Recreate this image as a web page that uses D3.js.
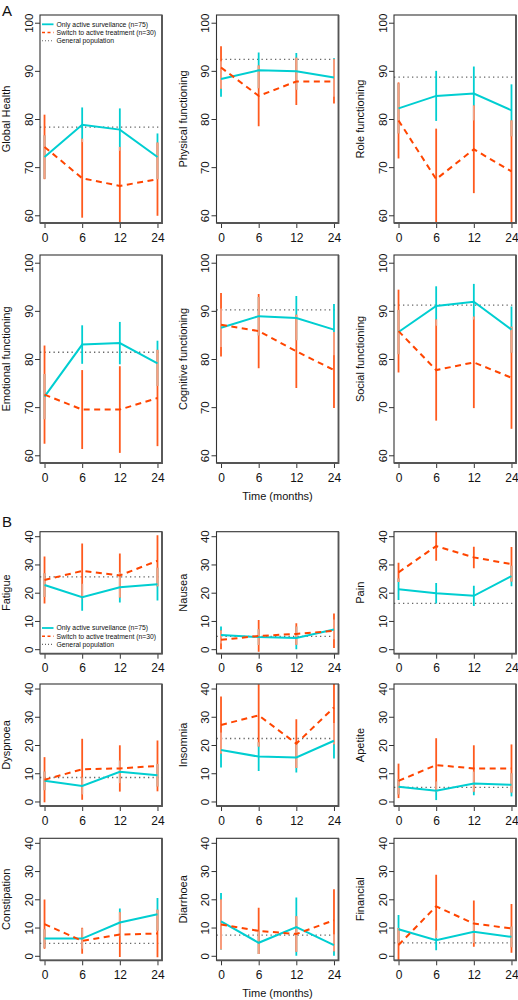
<!DOCTYPE html>
<html><head><meta charset="utf-8">
<script src="https://cdn.jsdelivr.net/npm/d3@7"></script>
<style>
body{margin:0;background:#fff}
text{font-family:"Liberation Sans",Arial,Helvetica,sans-serif;fill:#111}
</style>
</head><body>
<svg id="c" width="518" height="1000"></svg>
<script>
// ---------- data ----------
const timeLabels = ["0", "6", "12", "24"];
const panelTitles = ["Global Health", "Physical functioning", "Role functioning",
  "Emotional functioning", "Cognitive functioning", "Social functioning",
  "Fatigue", "Nausea", "Pain", "Dyspnoea", "Insomnia", "Apetite",
  "Constipation", "Diarrhoea", "Financial"];
const legendLabels = ["Only active surveilance (n=75)", "Switch to active treatment (n=30)", "General population"];
const yTicksA = [60, 70, 80, 90, 100];
const yTicksB = [0, 10, 20, 30, 40];

// Only active surveillance (n=75)
const asMean = [
  [72.1, 78.8, 77.8, 72.1], [88.3, 90.1, 89.9, 88.6], [82.2, 84.8, 85.3, 81.8],
  [72.2, 83.0, 83.3, 79.1], [86.5, 88.9, 88.5, 86.1], [85.6, 91.0, 91.9, 86.1],
  [22.7, 18.4, 21.9, 23.0], [5.0, 4.3, 4.0, 7.0], [21.2, 19.8, 18.9, 25.9],
  [7.3, 5.5, 10.5, 9.3], [18.2, 15.9, 15.6, 21.5], [5.2, 3.8, 6.4, 5.9],
  [6.1, 6.1, 11.8, 14.7], [12.2, 4.6, 10.2, 3.8], [9.4, 5.5, 8.5, 6.7]];
const asLow = [
  [67.6, 75.2, 73.4, 67.5], [84.6, 86.4, 86.1, 84.6], [77.0, 79.6, 79.7, 76.4],
  [67.5, 79.0, 78.9, 74.4], [82.5, 84.9, 83.9, 80.8], [81.0, 86.9, 88.2, 81.3],
  [18.5, 13.6, 16.5, 17.2], [2.0, 1.5, 0.0, 3.5], [17.4, 16.2, 15.3, 22.3],
  [4.0, 2.5, 6.5, 5.3], [12.0, 10.8, 10.3, 15.2], [2.5, 0.5, 2.2, 1.8],
  [2.8, 2.5, 6.9, 8.9], [2.2, 0.6, 0.0, 0.0], [4.4, 2.0, 4.5, 3.0]];
const asHigh = [
  [76.6, 82.4, 82.2, 77.0], [92.0, 93.8, 93.7, 92.6], [87.4, 90.0, 90.9, 87.2],
  [76.9, 87.0, 87.7, 83.8], [90.5, 92.9, 93.1, 91.4], [90.2, 95.1, 95.6, 90.9],
  [26.9, 23.2, 27.3, 28.8], [8.0, 7.1, 8.0, 10.5], [25.0, 23.4, 22.5, 29.5],
  [10.6, 8.5, 14.5, 13.3], [24.4, 21.0, 20.9, 27.8], [7.9, 7.1, 10.6, 10.0],
  [9.4, 9.7, 16.7, 20.5], [22.2, 8.6, 20.6, 7.6], [14.4, 9.0, 12.5, 10.4]];

// Switch to active treatment (n=30)
const atMean = [
  [74.2, 67.7, 66.1, 67.5], [90.7, 84.8, 87.8, 87.8], [79.7, 67.5, 73.7, 69.1],
  [72.6, 69.5, 69.5, 71.9], [87.1, 85.8, 81.6, 77.7], [85.8, 77.7, 79.3, 76.1],
  [24.5, 27.7, 26.1, 31.3], [3.3, 4.7, 5.4, 6.5], [27.2, 36.5, 32.5, 30.1],
  [7.7, 11.4, 11.7, 12.6], [27.1, 30.5, 20.5, 33.3], [7.3, 12.9, 11.7, 11.7],
  [11.2, 5.3, 7.5, 7.9], [11.1, 8.8, 7.7, 12.6], [3.8, 17.5, 11.4, 9.7]];
const atLow = [
  [67.5, 59.5, 58.0, 59.9], [86.3, 78.5, 82.9, 83.2], [71.8, 57.0, 64.6, 58.5],
  [62.4, 61.3, 60.5, 61.9], [80.5, 78.1, 74.0, 69.8], [77.2, 67.2, 69.8, 65.5],
  [16.2, 18.0, 18.3, 22.3], [0.0, -0.9, 1.6, 0.4], [23.8, 31.3, 28.7, 24.0],
  [-0.3, 0.6, 3.5, 3.6], [17.0, 19.5, 11.9, 20.3], [1.2, 3.4, 3.5, 3.2],
  [2.5, 0.7, -0.4, -0.5], [2.3, 0.6, 1.4, 1.6], [-2.2, 6.3, 3.2, 1.1]];
const atHigh = [
  [80.9, 75.9, 74.2, 75.1], [95.1, 91.1, 92.7, 92.4], [87.6, 78.0, 82.8, 79.7],
  [82.8, 77.7, 78.5, 81.9], [93.7, 93.5, 89.2, 85.6], [94.4, 88.2, 88.8, 86.7],
  [32.8, 37.4, 33.9, 40.3], [6.6, 10.3, 9.2, 12.6], [30.6, 41.7, 36.3, 36.2],
  [15.7, 22.2, 19.9, 21.6], [37.2, 41.5, 29.1, 46.3], [13.4, 22.4, 19.9, 20.2],
  [19.9, 9.9, 15.4, 16.3], [19.9, 17.0, 14.0, 23.6], [9.8, 28.7, 19.6, 18.3]];

// General population reference
const gpRef = [78.3, 92.4, 88.7, 81.4, 90.2, 91.2, 25.6, 4.5, 16.2, 8.5, 22.3, 5.0, 4.4, 7.3, 4.6];

// ---------- style / layout ----------
const CYAN = "#00CED1", ORANGE = "#FF4500", BAR_OR = "#FF5A1E", SALMON = "#F9A184", GP = "#666";
const colX = [40, 216.5, 394], pw = 122;
const rowsA = [15, 255], phA = 208;
const rowsB = [531.7, 684, 838.3], phB = 122;

const svg = d3.select("#c");
const defs = svg.append("defs");

panelTitles.forEach((title, i) => {
  const isA = i < 6;
  const r = isA ? Math.floor(i / 3) : Math.floor((i - 6) / 3);
  const c = i % 3;
  const x0 = colX[c], y0 = isA ? rowsA[r] : rowsB[r], h = isA ? phA : phB;
  const ticks = isA ? yTicksA : yTicksB;
  const lo = ticks[0], hi = ticks[ticks.length - 1], ext = (hi - lo) * 0.04;
  const x = d3.scalePoint().domain(timeLabels).range([0, pw]).padding(0.12);
  const y = d3.scaleLinear().domain([lo - ext, hi + ext]).range([h, 0]);
  const g = svg.append("g").attr("transform", `translate(${x0},${y0})`);

  defs.append("clipPath").attr("id", "clip" + i)
    .append("rect").attr("width", pw).attr("height", h);
  const p = g.append("g").attr("clip-path", `url(#clip${i})`);

  // GP reference
  p.append("line").attr("x1", 0).attr("x2", pw)
    .attr("y1", y(gpRef[i])).attr("y2", y(gpRef[i]))
    .attr("stroke", GP).attr("stroke-width", 1.3).attr("stroke-dasharray", "1.3,3.2");

  // error bars
  timeLabels.forEach((t, k) => {
    const xx = x(t);
    p.append("line").attr("x1", xx).attr("x2", xx)
      .attr("y1", y(asLow[i][k])).attr("y2", y(asHigh[i][k]))
      .attr("stroke", CYAN).attr("stroke-width", 1.8);
    p.append("line").attr("x1", xx).attr("x2", xx)
      .attr("y1", y(atLow[i][k])).attr("y2", y(atHigh[i][k]))
      .attr("stroke", BAR_OR).attr("stroke-width", 1.8);
    const oLo = Math.max(asLow[i][k], atLow[i][k]), oHi = Math.min(asHigh[i][k], atHigh[i][k]);
    if (oHi > oLo) {
      p.append("line").attr("x1", xx).attr("x2", xx)
        .attr("y1", y(oLo)).attr("y2", y(oHi))
        .attr("stroke", SALMON).attr("stroke-width", 1.8);
    }
  });

  const line = d3.line().x((d, k) => x(timeLabels[k])).y(d => y(d));
  p.append("path").datum(asMean[i]).attr("d", line)
    .attr("fill", "none").attr("stroke", CYAN).attr("stroke-width", 2);
  p.append("path").datum(atMean[i]).attr("d", line)
    .attr("fill", "none").attr("stroke", ORANGE).attr("stroke-width", 2)
    .attr("stroke-dasharray", "6,4.5");

  // axes
  const ya = g.append("g").call(d3.axisLeft(y).tickValues(ticks).tickSize(5).tickPadding(3));
  ya.select(".domain").remove();
  ya.selectAll("line").attr("stroke", "#333");
  ya.selectAll("text").attr("transform", "rotate(-90)").attr("x", 0).attr("y", -7.5)
    .attr("dy", null).attr("text-anchor", "middle").style("font-size", "11.5px").attr("fill", "#111");

  const xa = g.append("g").attr("transform", `translate(0,${h})`)
    .call(d3.axisBottom(x).tickSize(5).tickPadding(5));
  xa.select(".domain").remove();
  xa.selectAll("line").attr("stroke", "#333");
  xa.selectAll("text").style("font-size", "12px").attr("fill", "#111");

  // box (right/bottom edges render heavier in the reference)
  g.append("rect").attr("width", pw).attr("height", h)
    .attr("fill", "none").attr("stroke", "#333").attr("stroke-width", 1.1);
  g.append("path").attr("d", `M${pw},0V${h}H0`)
    .attr("fill", "none").attr("stroke", "#555").attr("stroke-width", 1.8);

  // y title
  g.append("text").attr("transform", `translate(-30,${h / 2}) rotate(-90)`)
    .attr("text-anchor", "middle").style("font-size", "11px").text(title);

  // legends
  if (i === 0 || i === 6) {
    const ly = i === 0 ? [9.3, 17.5, 25.7] : [h - 25.7, h - 17.5, h - 9.3];
    const styles = [
      {c: CYAN, w: 1.8, d: null},
      {c: ORANGE, w: 1.6, d: "3,2.5"},
      {c: GP, w: 1.1, d: "1,2"}];
    legendLabels.forEach((lab, j) => {
      g.append("line").attr("x1", 2).attr("x2", 13.5).attr("y1", ly[j]).attr("y2", ly[j])
        .attr("stroke", styles[j].c).attr("stroke-width", styles[j].w)
        .attr("stroke-dasharray", styles[j].d);
      g.append("text").attr("x", 16.5).attr("y", ly[j] + 2.4)
        .style("font-size", "6.8px").attr("fill", "#222").text(lab);
    });
  }

  if (i === 4 || i === 13) {
    g.append("text").attr("x", pw / 2).attr("y", h + 37)
      .attr("text-anchor", "middle").style("font-size", "11px").text("Time (months)");
  }
});

svg.append("text").attr("x", 2).attr("y", 16).style("font-size", "15px").text("A");
svg.append("text").attr("x", 2).attr("y", 527).style("font-size", "15px").text("B");
</script>
</body></html>
